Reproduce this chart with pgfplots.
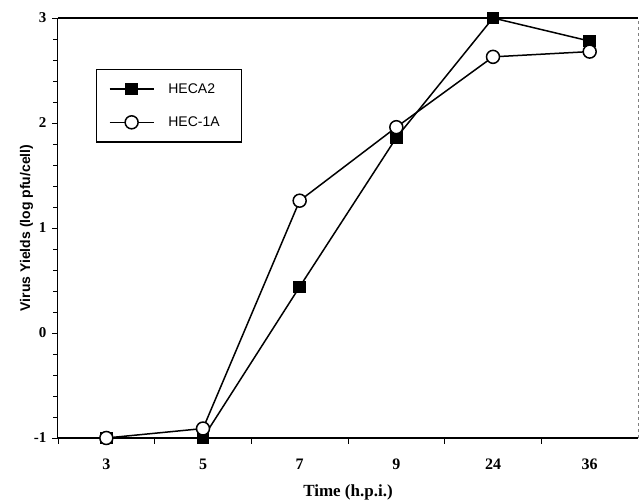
\documentclass[border=0pt]{standalone}
\usepackage{pgfplots}
\pgfplotsset{compat=1.18}
\usepackage{fontspec}
\setmainfont{Liberation Serif}
\setsansfont{Liberation Sans}
\begin{document}
\begin{tikzpicture}
\begin{axis}[
  name=ax,
  scale only axis,
  width=580pt, height=420pt,
  xmin=-0.5, xmax=5.5,
  ymin=-1, ymax=3,
  axis x line*=bottom, axis y line*=left,
  x axis line style={line width=1.8pt, -},
  y axis line style={line width=1pt, -},
  tick align=outside,
  major tick length=6pt, minor tick length=5pt,
  xtick={-0.5,0.5,1.5,2.5,3.5,4.5},
  xticklabels={,,,,,},
  extra x ticks={0,1,2,3,4,5},
  extra x tick labels={3,5,7,9,24,36},
  extra x tick style={major tick length=0pt},
  ytick={-1,0,1,2,3},
  minor y tick num=4,
  tick style={black, line width=0.7pt},
  /pgf/number format/assume math mode=true,
  xticklabel style={font=\fontsize{16}{16}\selectfont\bfseries, yshift=-17pt},
  yticklabel style={font=\fontsize{15}{15}\selectfont\bfseries, xshift=-2pt},
  xlabel={\textbf{Time (h.p.i.)}},
  xlabel style={font=\fontsize{17}{17}\selectfont, yshift=-3pt},
  ylabel={\sffamily\bfseries Virus Yields (log pfu/cell)},
  ylabel style={font=\fontsize{14}{14}\selectfont, yshift=-6pt},
  legend style={at={(0.066,0.879)}, anchor=north west, draw=black, line width=1.2pt,
    font=\sffamily\fontsize{14}{14}\selectfont, row sep=18pt, column sep=12pt,
    inner xsep=12pt, inner ysep=12pt},
  legend cell align=left,
  legend image code/.code={\draw[mark repeat=2,mark phase=2] plot coordinates {(0pt,0pt) (22pt,0pt) (44pt,0pt)};},
  clip=false,
]
\addplot[black, line width=1.5pt, mark=square*, mark size=5.5pt, mark options={solid, fill=black}]
  coordinates {(0,-1.0) (1,-1.0) (2,0.44) (3,1.86) (4,3.0) (5,2.78)};
\addlegendentry{HECA2}
\addplot[black, line width=1.5pt, mark=*, mark size=6.5pt, mark options={solid, fill=white, line width=1.5pt}]
  coordinates {(0,-1.0) (1,-0.91) (2,1.26) (3,1.96) (4,2.63) (5,2.68)};
\addlegendentry{HEC-1A\hspace*{8pt}}
\draw[line width=1.4pt] (axis description cs:0,1) -- (axis description cs:1,1);
\draw[gray, dashed, line width=0.6pt] (axis description cs:1,0) -- (axis description cs:1,1);
\end{axis}
\pgfresetboundingbox
\path (ax.south west) ++(-58pt,-66pt) rectangle ([shift={(1pt,18pt)}]ax.north east);
\end{tikzpicture}
\end{document}
